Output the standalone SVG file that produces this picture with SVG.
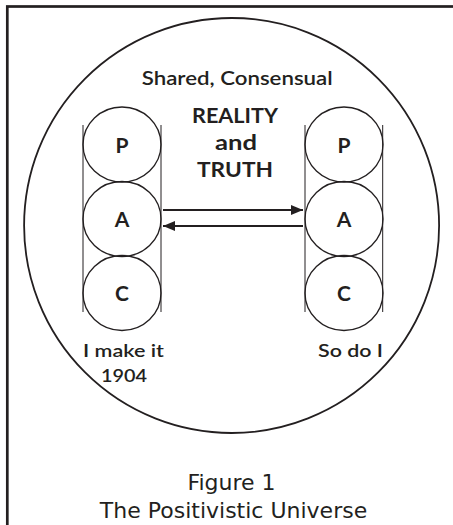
<svg xmlns="http://www.w3.org/2000/svg" width="453" height="525" viewBox="0 0 453 525">
<style>
.fut{font-family:Lato,"Open Sans","DejaVu Sans",sans-serif;fill:#231f20}
.b{font-weight:bold}
.m{font-weight:600}
.cap{font-family:"DejaVu Sans","Liberation Sans",sans-serif;font-size:22px;fill:#231f20;text-anchor:middle}
.col{stroke:#231f20;stroke-width:1;fill:none}
.cir{stroke:#231f20;stroke-width:1.3;fill:none}
.arr{stroke:#231f20;stroke-width:2;fill:none}
.lt{font-size:21px;text-anchor:middle}
</style>
<defs>
<marker id="ah" viewBox="0 0 12 10" refX="12" refY="5" markerWidth="12" markerHeight="10" markerUnits="userSpaceOnUse" orient="auto">
<path d="M0,0 L12,5 L0,10 Z" fill="#231f20"/>
</marker>
</defs>
<rect x="0" y="0" width="453" height="525" fill="#fff"/>
<rect x="7.3" y="6.5" width="470" height="540" fill="none" stroke="#231f20" stroke-width="2.7"/>
<g id="universe">
<circle cx="231.6" cy="225.5" r="207.5" fill="none" stroke="#231f20" stroke-width="1.8"/>
<text class="fut m" x="141.7" y="85" font-size="19" textLength="191" lengthAdjust="spacingAndGlyphs">Shared, Consensual</text>
<text class="fut b" x="192" y="123" font-size="21" textLength="86" lengthAdjust="spacingAndGlyphs">REALITY</text>
<text class="fut b" x="215" y="150" font-size="21" textLength="42" lengthAdjust="spacingAndGlyphs">and</text>
<text class="fut b" x="197" y="177" font-size="21" textLength="76" lengthAdjust="spacingAndGlyphs">TRUTH</text>
</g>
<g id="left-person">
<line class="col" x1="83" y1="125" x2="83" y2="312"/>
<line class="col" x1="161" y1="125" x2="161" y2="312"/>
<ellipse class="cir" cx="122" cy="144.5" rx="39" ry="37.5"/>
<ellipse class="cir" cx="122" cy="219" rx="39" ry="37.5"/>
<ellipse class="cir" cx="122" cy="293" rx="39" ry="37.5"/>
<text class="fut b lt" x="122" y="153">P</text>
<text class="fut b lt" x="122" y="227">A</text>
<text class="fut b lt" x="122" y="301">C</text>
<text class="fut m" x="83" y="357" font-size="18" textLength="81" lengthAdjust="spacingAndGlyphs">I make it</text>
<text class="fut m" x="101" y="382" font-size="18" textLength="46" lengthAdjust="spacingAndGlyphs">1904</text>
</g>
<g id="right-person">
<line class="col" x1="305" y1="125" x2="305" y2="312"/>
<line class="col" x1="382.7" y1="125" x2="382.7" y2="312"/>
<ellipse class="cir" cx="344" cy="144.5" rx="39" ry="37.5"/>
<ellipse class="cir" cx="344" cy="219" rx="39" ry="37.5"/>
<ellipse class="cir" cx="344" cy="293" rx="39" ry="37.5"/>
<text class="fut b lt" x="344" y="153">P</text>
<text class="fut b lt" x="344" y="227">A</text>
<text class="fut b lt" x="344" y="301">C</text>
<text class="fut m" x="318" y="357" font-size="18" textLength="65" lengthAdjust="spacingAndGlyphs">So do I</text>
</g>
<g id="connectors">
<line class="arr" x1="163" y1="210" x2="303" y2="210" marker-end="url(#ah)"/>
<line class="arr" x1="303" y1="226" x2="163" y2="226" marker-end="url(#ah)"/>
</g>
<g id="caption">
<text class="cap" x="231.5" y="490">Figure 1</text>
<text class="cap" x="233.5" y="518">The Positivistic Universe</text>
</g>
</svg>
